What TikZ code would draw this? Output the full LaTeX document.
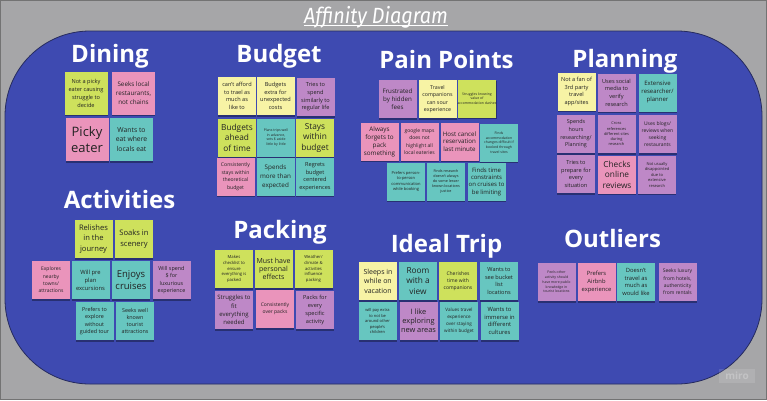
\documentclass[tikz,border=0pt]{standalone}
\usepackage{fontspec}
\setmainfont{Open Sans}
\newfontfamily\titlefont{Fira Sans}
\usetikzlibrary{shadows}
\definecolor{bggray}{HTML}{A6A6A8}
\definecolor{bgblue}{HTML}{3E4AB1}
\definecolor{edgeblue}{HTML}{262B5E}
\definecolor{lime}{HTML}{CEE15C}
\definecolor{pinkn}{HTML}{EA94BB}
\definecolor{tealn}{HTML}{67C6C0}
\definecolor{purplen}{HTML}{BE88C7}
\definecolor{yellown}{HTML}{F7F3A5}
\definecolor{notetext}{HTML}{222222}
\newcommand{\fsz}[2]{\fontsize{#1}{#2}\selectfont}
\tikzset{
  note/.style={minimum width=38pt, minimum height=38pt, inner sep=0pt, align=center,
    text=notetext, drop shadow={shadow xshift=0.3pt, shadow yshift=-1.6pt, opacity=0.35, fill=black}},
  big/.style={minimum width=43pt, minimum height=43pt},
  heading/.style={font=\bfseries\fsz{24}{28}, text=white, anchor=base, inner sep=0pt},
  tL/.style={font=\fsz{9.5}{12}},
  tM/.style={font=\fsz{8.3}{10.5}},
  tN/.style={font=\fsz{7}{9}},
  tS/.style={font=\fsz{5.6}{7.6}},
  tX/.style={font=\fsz{4.4}{5.8}},
  tT/.style={font=\fsz{3.5}{4.7}},
}
\begin{document}
\begin{tikzpicture}[x=1pt,y=-1pt]
\useasboundingbox (0,0) rectangle (767,400);
\fill[bggray] (0,0) rectangle (767,400);
\draw[black!55, line width=1] (0.5,0.5) rectangle (766.5,399.5);
\draw[fill=bgblue, draw=edgeblue, line width=0.8, rounded corners=85pt] (5,31) rectangle (762,384);
% title
\node[font=\titlefont\itshape\fsz{22}{24}, text=white, xscale=0.9, anchor=base, inner sep=0pt] (title) at (376,23) {Affinity Diagram};
\draw[white, line width=0.9] ([yshift=-2.5pt]title.base west) -- ([yshift=-2.5pt]title.base east);
% watermark
\node[fill=white, fill opacity=0.12, text opacity=0.25, text=white, font=\bfseries\fsz{10}{12}, minimum width=36pt, minimum height=14pt, inner sep=0pt] (miro) at (737,376) {miro};
% headings
\node[heading] (hDining) at (110,62) {Dining};
\node[heading] (hBudget) at (279,62) {Budget};
\node[heading] (hPain) at (446.5,68) {Pain Points};
\node[heading] (hPlan) at (625,67) {Planning};
\node[heading] (hAct) at (119.5,208) {Activities};
\node[heading] (hPack) at (280,238) {Packing};
\node[heading] (hIdeal) at (446.5,252) {Ideal Trip};
\node[heading] (hOut) at (612.5,247) {Outliers};
% Dining
\node[note, big, fill=lime, font=\fsz{5.6}{8}] (d1) at (86,93) {Not a picky\\eater causing\\struggle to\\decide};
\node[note, big, fill=pinkn, font=\fsz{6.3}{8.8}] (d2) at (133.5,93) {Seeks local\\restaurants,\\not chains};
\node[note, big, fill=pinkn, font=\fsz{13}{16.5}] (d3) at (87,139.5) {Picky\\eater};
\node[note, big, fill=tealn, font=\fsz{6.8}{9.5}] (d4) at (131.5,139.5) {Wants to\\eat where\\locals eat};
% Budget
\node[note, fill=yellown, tS] (b1) at (237,96) {can't afford\\to trael as\\much as\\like to};
\node[note, fill=yellown, tS] (b2) at (275.5,96) {Budgets\\extra for\\unexpected\\costs};
\node[note, fill=purplen, tS] (b3) at (315.5,97) {Tries to\\spend\\similarly to\\regular life};
\node[note, fill=lime, tM] (b4) at (237,137.5) {Budgets\\ahead\\of time};
\node[note, fill=tealn, tT] (b5) at (276,137.5) {Plans trips well\\in advance,\\sets \$ aside\\little by little};
\node[note, fill=lime, tM] (b6) at (315,137.5) {Stays\\within\\budget};
\node[note, fill=pinkn, font=\fsz{5.1}{7.5}] (b7) at (235.5,176.5) {Consistently\\stays within\\theoretical\\budget};
\node[note, fill=tealn, font=\fsz{6.3}{9}] (b8) at (275.5,176.5) {Spends\\more than\\expected};
\node[note, fill=tealn, tS] (b9) at (315,176.5) {Regrets\\budget\\centered\\experiences};
% Pain Points
\node[note, fill=purplen, font=\fsz{6.2}{8.3}] (p1) at (397.5,99) {Frustrated\\by hidden\\fees};
\node[note, fill=yellown, font=\fsz{5.3}{7.5}] (p2) at (437.5,99) {Travel\\companions\\can sour\\experience};
\node[note, fill=lime, tT] (p3) at (477,98.5) {Struggles knowing\\value of\\accommodation dashes};
\node[note, fill=pinkn, font=\fsz{6.3}{8}] (p4) at (379.5,141.5) {Always\\forgets to\\pack\\something};
\node[note, fill=pinkn, font=\fsz{5}{7.5}] (p5) at (419.5,141.5) {google maps\\does not\\highlight all\\local eateries};
\node[note, fill=pinkn, font=\fsz{6.2}{7.7}] (p6) at (459.5,141.5) {Host cancel\\reservation\\last minute};
\node[note, fill=tealn, tT] (p7) at (499,142.5) {Finds\\accommodation\\changes difficult if\\booked through\\travel sites};
\node[note, fill=tealn, font=\fsz{4}{5.6}] (p8) at (406,181.5) {Prefers person-\\to-person\\communication\\while booking};
\node[note, fill=tealn, font=\fsz{3.7}{5}] (p9) at (446,181.5) {Finds research\\doesn't always\\do some lesser\\known locations\\justice};
\node[note, fill=tealn, font=\fsz{6}{7.3}] (p10) at (486.5,181.5) {Finds time\\constraints\\on cruises to\\be limiting};
% Planning
\node[note, fill=yellown, tS] (pl1) at (576.5,91.5) {Not a fan of\\3rd party\\travel\\app/sites};
\node[note, fill=purplen, tS] (pl2) at (616.5,92.5) {Uses social\\media to\\verify\\research};
\node[note, fill=tealn, font=\fsz{6}{8}] (pl3) at (657.5,92.5) {Extensive\\researcher/\\planner};
\node[note, fill=purplen, font=\fsz{5.4}{7.7}] (pl4) at (576,134) {Spends\\hours\\researching/\\Planning};
\node[note, fill=purplen, font=\fsz{3.9}{5.3}] (pl5) at (616.5,134) {Cross\\references\\different sites\\during\\research};
\node[note, fill=purplen, font=\fsz{5}{7}] (pl6) at (657.5,134) {Uses blogs/\\reviews when\\seeking\\restaurants};
\node[note, fill=purplen, tS] (pl7) at (576,174) {Tries to\\prepare for\\every\\situation};
\node[note, fill=pinkn, tM] (pl8) at (617,174.5) {Checks\\online\\reviews};
\node[note, fill=purplen, font=\fsz{4}{5.5}] (pl9) at (657,174.5) {Not usually\\disappointed\\due to\\extensive\\research};
% Activities
\node[note, fill=lime, font=\fsz{7.6}{10.5}] (a1) at (93.5,239) {Relishes\\in the\\journey};
\node[note, fill=lime, font=\fsz{7.6}{11}] (a2) at (134,239) {Soaks in\\scenery};
\node[note, fill=pinkn, font=\fsz{5}{7.3}] (a3) at (51,280) {Explores\\nearby\\towns/\\attractions};
\node[note, fill=tealn, font=\fsz{5.8}{8}] (a4) at (90.5,280) {Will pre\\plan\\excursions};
\node[note, fill=tealn, tL] (a5) at (131,280) {Enjoys\\cruises};
\node[note, fill=purplen, font=\fsz{5.4}{7.3}] (a6) at (171.5,280) {Will spend\\\$ for\\luxurious\\experience};
\node[note, fill=tealn, font=\fsz{5.4}{7.3}] (a7) at (94.5,321) {Prefers to\\explore\\without\\guided tour};
\node[note, fill=tealn, font=\fsz{5.4}{7.3}] (a8) at (135,321) {Seeks well\\known\\tourist\\attractions};
% Packing
\node[note, fill=lime, font=\fsz{4.2}{5.6}] (k1) at (234,269) {Makes\\checklist to\\ensure\\everything is\\packed};
\node[note, fill=lime, font=\fsz{7}{8.3}] (k2) at (273.5,269) {Must have\\personal\\effects};
\node[note, fill=lime, font=\fsz{4.2}{5.6}] (k3) at (313.5,269) {Weather/\\climate \&\\activities\\influence\\packing};
\node[note, fill=purplen, font=\fsz{6}{8.3}] (k4) at (234,310) {Struggles to\\fit\\everything\\needed};
\node[note, fill=pinkn, font=\fsz{5}{7}] (k5) at (275,309) {Consistently\\over packs};
\node[note, fill=purplen, font=\fsz{5.6}{7.7}] (k6) at (315,310) {Packs for\\every\\specific\\activity};
% Ideal Trip
\node[note, fill=yellown, font=\fsz{7}{9.5}] (i1) at (378,281) {Sleeps in\\while on\\vacation};
\node[note, fill=tealn, tM] (i2) at (418,281) {Room\\with a\\view};
\node[note, fill=lime, font=\fsz{5}{6.7}] (i3) at (458,281) {Cherishes\\time with\\companions};
\node[note, fill=tealn, font=\fsz{5.6}{7.6}] (i4) at (499,281) {Wants to\\see bucket\\list\\locations};
\node[note, fill=tealn, font=\fsz{4}{5.5}] (i5) at (377.5,321) {will pay extra\\to not be\\around other\\people's\\children};
\node[note, fill=purplen, font=\fsz{7.4}{9}] (i6) at (418.5,321) {I like\\exploring\\new areas};
\node[note, fill=tealn, font=\fsz{4.6}{7}] (i7) at (459,321) {Values travel\\experience\\over staying\\within budget};
\node[note, fill=tealn, font=\fsz{5.8}{7.5}] (i8) at (499.5,321) {Wants to\\immerse in\\different\\cultures};
% Outliers
\node[note, fill=purplen, font=\fsz{3.5}{4.7}] (o1) at (556.5,282) {Feels other\\activity should\\have more public\\knowledge in\\tourist locations};
\node[note, fill=pinkn, font=\fsz{5.8}{8}] (o2) at (596.5,282) {Prefers\\Airbnb\\experience};
\node[note, fill=tealn, font=\fsz{5.8}{7.5}] (o3) at (636,282) {Doesn't\\travel as\\much as\\would like};
\node[note, fill=purplen, font=\fsz{5}{7.3}] (o4) at (677.5,282) {Seeks luxury\\from hotels,\\authenticity\\from rentals};
\end{tikzpicture}
\end{document}
